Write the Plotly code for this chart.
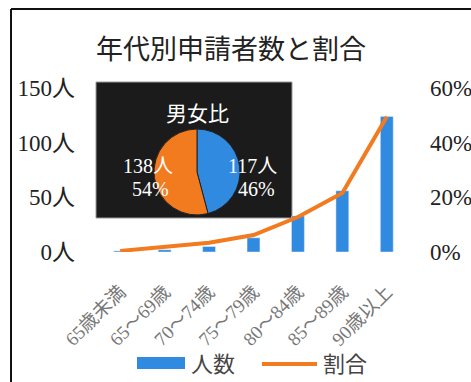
import plotly.graph_objects as go

categories = ["65歳未満", "65～69歳", "70～74歳", "75～79歳", "80～84歳", "85～89歳", "90歳以上"]
counts = [1, 2, 5, 13, 33, 56, 124]
ratios = [0.004, 0.019, 0.034, 0.062, 0.128, 0.216, 0.495]
left_ticks = [0, 50, 100, 150]
left_ticktext = ["0人", "50人", "100人", "150人"]
right_ticks = [0, 0.2, 0.4, 0.6]

pie_labels = ["男性", "女性"]
pie_values = [117, 138]

BLUE = "#2f8ae0"
ORANGE = "#f27a1f"
SERIF = "Liberation Serif, Noto Sans CJK JP"
CJK = "Noto Sans CJK JP"

W, H = 471, 382
L, R, T, B = 98, 62, 88, 130
pw, ph = W - L - R, H - T - B


def px(x):
    return (x - L) / pw


def py(y):
    return (H - B - y) / ph


fig = go.Figure()
fig.add_trace(go.Bar(x=categories, y=counts, name="人数", marker_color=BLUE,
                     yaxis="y", showlegend=False))
fig.add_trace(go.Scatter(x=categories, y=ratios, name="割合", mode="lines",
                         line=dict(color=ORANGE, width=4), yaxis="y2", showlegend=False))

total = sum(pie_values)
fig.add_trace(go.Pie(labels=pie_labels, values=pie_values, sort=False,
                     direction="clockwise", rotation=0,
                     marker=dict(colors=[BLUE, ORANGE], line=dict(color="#222", width=1)),
                     textinfo="none", hoverinfo="none", showlegend=False,
                     domain=dict(x=[px(154), px(240)], y=[py(215), py(129)])))

shapes = []
# inset dark box
shapes.append(dict(type="rect", xref="paper", yref="paper", layer="below",
                   x0=px(96), x1=px(292), y0=py(218), y1=py(82),
                   fillcolor="#1b1b1b", line=dict(color="#9a9a9a", width=1)))
# outer frame
shapes.append(dict(type="line", xref="paper", yref="paper", x0=px(11), x1=px(11),
                   y0=py(9), y1=py(382), line=dict(color="#111", width=2)))
shapes.append(dict(type="line", xref="paper", yref="paper", x0=px(11), x1=px(471),
                   y0=py(9), y1=py(9), line=dict(color="#111", width=2)))
# manual legend
shapes.append(dict(type="rect", xref="paper", yref="paper", x0=px(137), x1=px(185),
                   y0=py(369), y1=py(357), fillcolor=BLUE, line=dict(width=0)))
shapes.append(dict(type="line", xref="paper", yref="paper", x0=px(262), x1=px(317),
                   y0=py(364), y1=py(364), line=dict(color=ORANGE, width=4)))


def ann(text, x, y, size, color, xanchor="center", family=SERIF):
    return dict(text=text, xref="paper", yref="paper", x=px(x), y=py(y), showarrow=False,
                xanchor=xanchor, yanchor="middle", align="center",
                font=dict(family=family, size=size, color=color))


annotations = [
    ann("男女比", 197, 114, 21, "white"),
    ann(f"{pie_values[1]}人", 148, 166, 20, "white"),
    ann(f"{round(pie_values[1] / total * 100)}%", 150, 189, 20, "white"),
    ann(f"{pie_values[0]}人", 252, 166, 20, "white"),
    ann(f"{round(pie_values[0] / total * 100)}%", 256, 189, 20, "white"),
    ann("人数", 189, 364, 22, "#444", xanchor="left"),
    ann("割合", 321, 364, 22, "#444", xanchor="left"),
]

fig.update_layout(
    width=W, height=H,
    margin=dict(l=L, r=R, t=T, b=B),
    paper_bgcolor="white", plot_bgcolor="rgba(0,0,0,0)",
    title=dict(text="年代別申請者数と割合", x=231 / W, xanchor="center", y=1 - 50 / H,
               yanchor="middle", yref="container", font=dict(family=CJK, size=27, color="#222")),
    bargap=0.71,
    xaxis=dict(type="category", tickangle=-45, showgrid=False, showline=False, ticks="",
               ticklabelstandoff=24, automargin=False,
               tickfont=dict(family=SERIF, size=19, color="#777")),
    yaxis=dict(range=[0, 150], tickvals=left_ticks, ticktext=left_ticktext, showgrid=False,
               zeroline=False, showline=False, ticklabelstandoff=22, automargin=False,
               tickfont=dict(family=SERIF, size=23, color="#222")),
    yaxis2=dict(range=[0, 0.6], tickvals=right_ticks, tickformat=".0%", overlaying="y",
                side="right", showgrid=False, zeroline=False, showline=False,
                ticklabelstandoff=20, automargin=False,
                tickfont=dict(family=SERIF, size=23, color="#222")),
    shapes=shapes,
    annotations=annotations,
)

fig.write_html("out.html")
